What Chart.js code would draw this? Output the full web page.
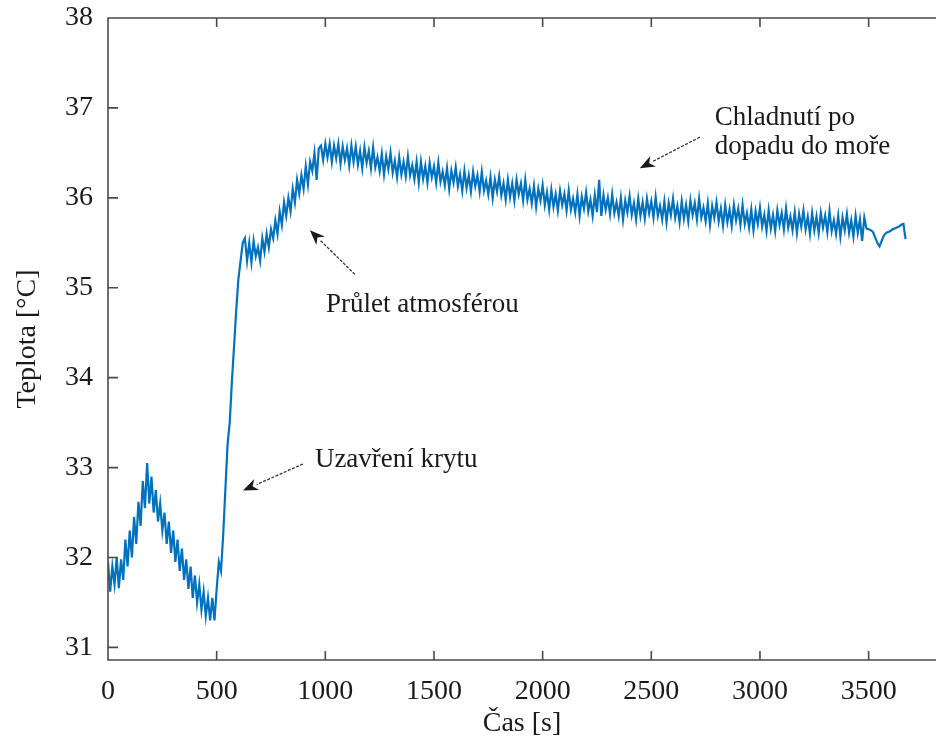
<!DOCTYPE html>
<html>
<head>
<meta charset="utf-8">
<script src="https://cdn.jsdelivr.net/npm/chart.js@4"></script>
<style>
  html, body { margin: 0; padding: 0; background: #fff; }
  #wrap { width: 936px; height: 742px; }
</style>
</head>
<body>
<div id="wrap"><canvas id="teplota-chart" width="936" height="742"></canvas></div>
<script>
// vzorkovani po 10 s
const sampleStep = 10;
const teplota = [
  31.95, 31.62, 31.9, 31.7, 32.0, 31.66, 31.98, 31.75, 32.2, 31.9, 32.3, 32.0, 32.45, 32.15, 32.62, 32.35, 32.85, 32.55,
  33.05, 32.6, 32.9, 32.5, 32.75, 32.4, 32.6, 32.3, 32.5, 32.15, 32.4, 32.05, 32.3, 31.95, 32.2, 31.85, 32.1, 31.75,
  31.98, 31.65, 31.9, 31.55, 31.8, 31.5, 31.7, 31.42, 31.62, 31.35, 31.55, 31.3,
  31.55, 31.3, 31.65, 31.95, 31.85, 32.25, 32.75, 33.25, 33.5, 33.95, 34.35, 34.75, 35.1, 35.3, 35.5,
  35.55, 35.3, 35.5, 35.28, 35.52, 35.35, 35.45, 35.3, 35.55, 35.4, 35.6, 35.45, 35.65,
  35.55, 35.75, 35.6, 35.85, 35.7, 35.95, 35.8, 36.0, 35.85, 36.1, 35.95, 36.2, 36.05, 36.25, 36.1, 36.35, 36.15,
  36.4, 36.3, 36.5, 36.2, 36.55,
  36.58, 36.42, 36.6, 36.45, 36.6, 36.4, 36.58, 36.44, 36.6, 36.38, 36.57, 36.42, 36.55, 36.36, 36.58, 36.4,
  36.57, 36.37, 36.52, 36.33, 36.56, 36.39, 36.52, 36.33, 36.56, 36.34, 36.45, 36.30, 36.49, 36.26, 36.46, 36.32,
  36.50, 36.28, 36.41, 36.23, 36.45, 36.26, 36.40, 36.24, 36.46, 36.25, 36.36, 36.21, 36.40, 36.17,
  36.40, 36.21, 36.35, 36.17, 36.39, 36.23, 36.35, 36.17, 36.39, 36.18,
  36.29, 36.14, 36.33, 36.10, 36.30, 36.17, 36.34, 36.13, 36.26, 36.08,
  36.30, 36.11, 36.25, 36.07, 36.29, 36.13, 36.25, 36.07, 36.29, 36.08,
  36.19, 36.04, 36.23, 36.00, 36.20, 36.07, 36.24, 36.03, 36.16, 35.98,
  36.20, 36.01, 36.16, 35.97, 36.20, 36.04,
  36.16, 35.97, 36.20, 35.98, 36.10, 35.94, 36.13, 35.90, 36.10, 35.97,
  36.14, 35.92, 36.06, 35.87, 36.09, 35.90, 36.04, 35.86, 36.08, 35.92, 36.04, 35.86, 36.08,
  35.87, 35.99, 35.84, 36.04, 35.80, 36.01, 35.88, 36.06, 35.85, 35.98,
  35.80, 36.03, 35.84, 36.20, 35.80, 36.03, 35.87, 36.00, 35.82, 36.04,
  35.83, 35.95, 35.80, 36.00, 35.76, 35.97, 35.84, 36.02, 35.81, 35.94,
  35.76, 35.99, 35.80, 35.95, 35.77, 35.99, 35.83, 35.96, 35.78, 36.01,
  35.80, 35.91, 35.76, 35.96, 35.73, 35.94, 35.81, 35.99, 35.78, 35.91,
  35.73, 35.96, 35.77, 35.92, 35.74, 35.97, 35.81, 35.94, 35.76, 35.99,
  35.78, 35.89, 35.74, 35.94, 35.70, 35.91, 35.78, 35.95, 35.74, 35.88,
  35.69, 35.92, 35.73, 35.87, 35.69, 35.92, 35.75, 35.88, 35.70, 35.92,
  35.71, 35.83, 35.67, 35.87, 35.64, 35.85, 35.71, 35.89, 35.68, 35.81,
  35.63, 35.86, 35.66, 35.81, 35.63, 35.86, 35.70, 35.83, 35.65, 35.88,
  35.67, 35.79, 35.64, 35.84, 35.61, 35.82,
  35.68, 35.86, 35.65, 35.79, 35.60, 35.83, 35.64, 35.79, 35.61, 35.83,
  35.67, 35.80, 35.62, 35.85, 35.63, 35.75, 35.60, 35.80, 35.57, 35.78,
  35.64, 35.82, 35.61, 35.75, 35.57, 35.80, 35.61, 35.76, 35.52, 35.78,
  35.66, 35.65, 35.64, 35.62, 35.56, 35.50, 35.46, 35.52, 35.58, 35.61,
  35.62, 35.63, 35.65, 35.66, 35.67, 35.68, 35.70, 35.71, 35.54
];

const xTicks = [0, 500, 1000, 1500, 2000, 2500, 3000, 3500];
const yTicks = [31, 32, 33, 34, 35, 36, 37, 38];

// popisky: text, poloha textu [s, °C], sipka od -> k
const popisky = [
  { lines: ["Chladnutí po", "dopadu do moře"], at: [2792, 36.81], from: [2723, 36.675], to: [2447, 36.33] },
  { lines: ["Průlet atmosférou"], at: [1003, 34.726], from: [1136, 35.149], to: [929, 35.64] },
  { lines: ["Uzavření krytu"], at: [952, 33.01], from: [897, 33.04], to: [621, 32.744] }
];

const points = teplota.map((t, i) => ({ x: i * sampleStep, y: t }));

const serif = "'Liberation Serif', 'Times New Roman', serif";

const ramecek = {
  id: "ramecek",
  afterDraw(chart) {
    const { ctx, chartArea: a, scales } = chart;
    const x = scales.x, y = scales.y;
    ctx.save();
    ctx.strokeStyle = "#4a4a4a";
    ctx.lineWidth = 1.6;
    ctx.beginPath();
    ctx.moveTo(a.right, a.top);
    ctx.lineTo(a.left, a.top);
    ctx.lineTo(a.left, a.bottom);
    ctx.lineTo(a.right, a.bottom);
    x.ticks.forEach(t => {
      let px = x.getPixelForValue(t.value);
      ctx.moveTo(px, a.bottom); ctx.lineTo(px, a.bottom - 9);
      ctx.moveTo(px, a.top); ctx.lineTo(px, a.top + 9);
    });
    y.ticks.forEach(t => {
      let py = y.getPixelForValue(t.value);
      ctx.moveTo(a.left, py); ctx.lineTo(a.left + 10, py);
    });
    ctx.stroke();

    // popisky se sipkami
    ctx.fillStyle = "#1a1a1a";
    ctx.font = "27px " + serif;
    ctx.textBaseline = "alphabetic";
    popisky.forEach(p => {
      let tx = x.getPixelForValue(p.at[0]);
      let ty = y.getPixelForValue(p.at[1]);
      p.lines.forEach((l, i) => ctx.fillText(l, tx, ty + i * 29));

      let x1 = x.getPixelForValue(p.from[0]), y1 = y.getPixelForValue(p.from[1]);
      let x2 = x.getPixelForValue(p.to[0]), y2 = y.getPixelForValue(p.to[1]);
      let ang = Math.atan2(y2 - y1, x2 - x1);
      let hl = 15, hw = 6;
      let bx = x2 - hl * Math.cos(ang), by = y2 - hl * Math.sin(ang);
      ctx.strokeStyle = "#333";
      ctx.lineWidth = 1.3;
      ctx.setLineDash([3, 1.5]);
      ctx.beginPath();
      ctx.moveTo(x1, y1);
      ctx.lineTo(bx, by);
      ctx.stroke();
      ctx.setLineDash([]);
      ctx.beginPath();
      ctx.moveTo(x2, y2);
      ctx.lineTo(bx + hw * Math.sin(ang), by - hw * Math.cos(ang));
      ctx.lineTo(x2 - 0.7 * hl * Math.cos(ang), y2 - 0.7 * hl * Math.sin(ang));
      ctx.lineTo(bx - hw * Math.sin(ang), by + hw * Math.cos(ang));
      ctx.closePath();
      ctx.fill();
    });
    ctx.restore();
  }
};

let ctx = document.getElementById("teplota-chart").getContext("2d");
let chart = new Chart(ctx, {
  type: "line",
  data: {
    datasets: [
      {
        label: "Teplota",
        data: points,
        borderColor: "#0072BD",
        borderWidth: 2.2,
        pointRadius: 0,
        tension: 0,
        fill: false,
      },
    ],
  },
  options: {
    responsive: false,
    animation: false,
    layout: { padding: { top: 18, right: 0, left: 0, bottom: 0 } },
    plugins: {
      legend: { display: false },
      tooltip: { enabled: false },
    },
    scales: {
      x: {
        type: "linear",
        min: 0,
        max: 3810,
        grid: { display: false },
        border: { display: false },
        afterBuildTicks: s => { s.ticks = xTicks.map(v => ({ value: v })); },
        afterFit: s => { s.height = 82; s.paddingLeft = 0; s.paddingRight = 0; },
        ticks: {
          color: "#1a1a1a",
          font: { family: serif, size: 28 },
          padding: 7,
          maxRotation: 0,
          callback: v => String(v),
        },
        title: {
          display: true,
          text: "Čas [s]",
          color: "#1a1a1a",
          font: { family: serif, size: 28 },
          padding: { top: 0, bottom: 2 },
        },
      },
      y: {
        min: 30.86,
        max: 38,
        grid: { display: false },
        border: { display: false },
        afterBuildTicks: s => { s.ticks = yTicks.map(v => ({ value: v })); },
        afterFit: s => { s.width = 108; s.paddingTop = 0; s.paddingBottom = 0; },
        ticks: {
          color: "#1a1a1a",
          font: { family: serif, size: 28 },
          padding: 7,
          callback: v => String(v),
        },
        title: {
          display: true,
          text: "Teplota [°C]",
          color: "#1a1a1a",
          font: { family: serif, size: 28 },
          padding: { top: 11, bottom: 0 },
        },
      },
    },
  },
  plugins: [ramecek],
});
</script>
</body>
</html>
